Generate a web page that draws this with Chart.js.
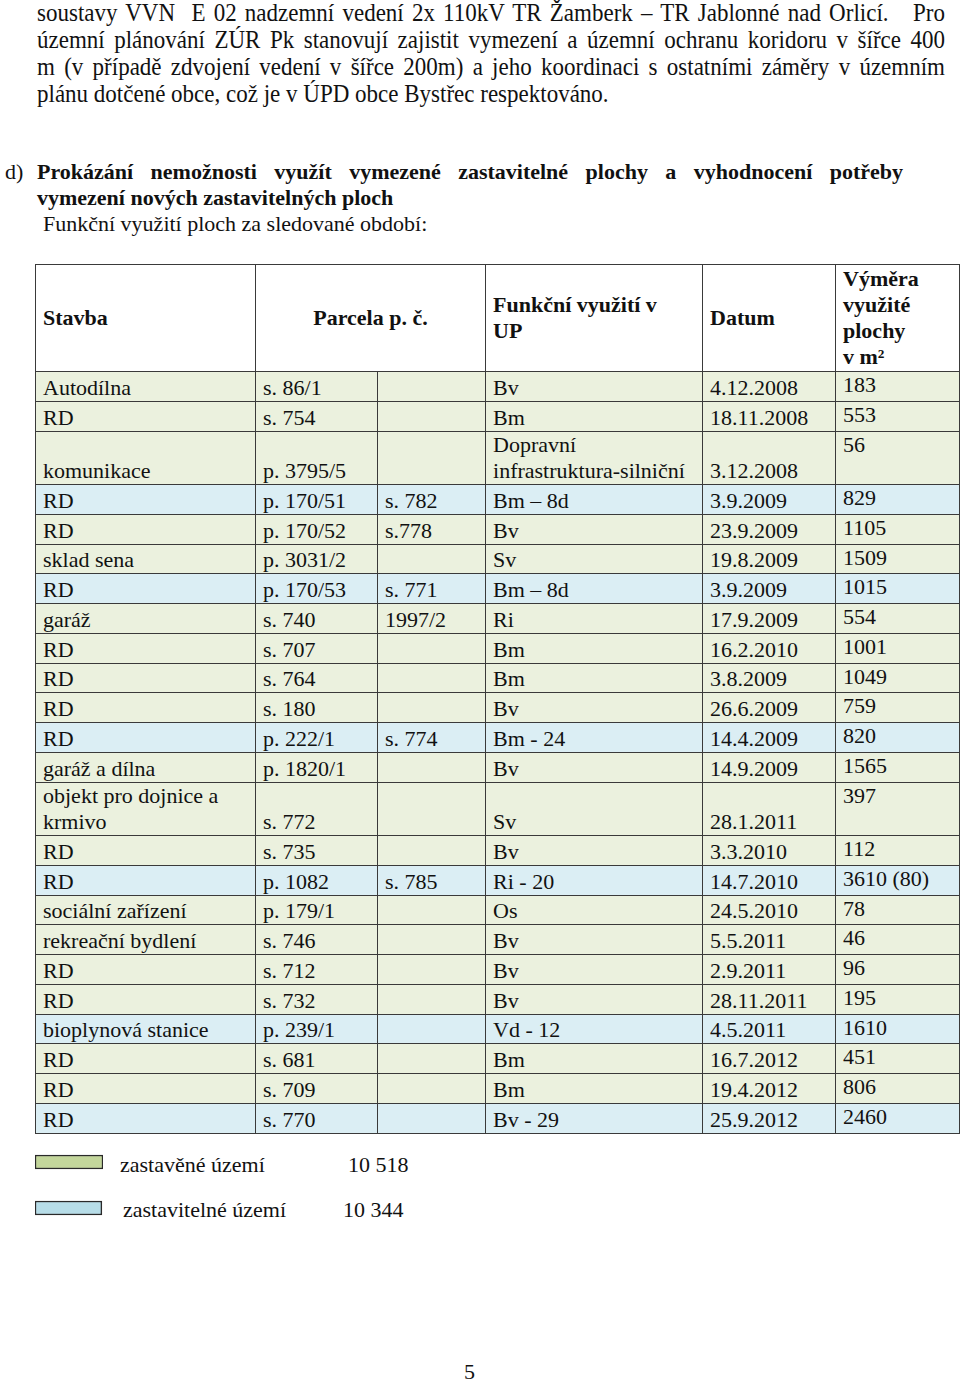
<!DOCTYPE html>
<html lang="cs">
<head>
<meta charset="utf-8">
<script src="https://cdn.jsdelivr.net/npm/chart.js@4/dist/chart.umd.min.js"></script>
<style>
  html, body { margin: 0; padding: 0; background: #fff; }
  body { width: 960px; height: 1382px; position: relative; overflow: hidden;
         font-family: 'Liberation Serif', 'Times New Roman', serif; color: #111; font-size: 22px; }
  .para { position: absolute; left: 37px; width: 908px; line-height: 27px; font-size: 23px; }
  .para div { text-align: justify; text-align-last: justify; white-space: nowrap; transform: scaleY(1.1); }
  .para div.last { text-align-last: left; }
  .sect { position: absolute; left: 5px; top: 159px; width: 900px; line-height: 26px; }
  .sect .d { position: absolute; left: 0; top: 0; }
  .sect .bl { position: absolute; left: 32px; width: 866px; font-weight: bold; white-space: nowrap; }
  .sect .j { text-align: justify; text-align-last: justify; }
  table { position: absolute; left: 35px; top: 264px; border-collapse: collapse; table-layout: fixed; width: 924px; }
  td, th { border: 1px solid #3a3a3a; padding: 0 0 0 7px; line-height: 26px; vertical-align: bottom;
           white-space: pre; overflow: hidden; font-weight: normal; text-align: left; }
  th { font-weight: bold; vertical-align: middle; height: 106px; }
  th.center { text-align: center; padding: 0; }
  tr.g td { background: #ebf1de; }
  tr.b td { background: #dbeef4; }
  tbody tr { height: 29.75px; }
  tbody tr.tall { height: 53.5px; }
  td.area { vertical-align: top; }
  .leg { position: absolute; white-space: nowrap; line-height: 26px; }
  #legendWrap { position: absolute; left: 33px; top: 1139px; width: 72px; height: 92px; }
  .page { position: absolute; left: 464px; top: 1359px; line-height: 26px; }
</style>
</head>
<body>
<div class="para" style="top:-1px">
  <div>soustavy VVN&nbsp; E 02 nadzemní vedení 2x 110kV TR Žamberk – TR Jablonné nad Orlicí.&nbsp;&nbsp; Pro</div>
  <div>územní plánování ZÚR Pk stanovují zajistit vymezení a územní ochranu koridoru v šířce 400</div>
  <div>m (v případě zdvojení vedení v šířce 200m) a jeho koordinaci s ostatními záměry v územním</div>
  <div class="last">plánu dotčené obce, což je v ÚPD obce Bystřec respektováno.</div>
</div>

<div class="sect">
  <div class="d">d)</div>
  <div class="bl j" style="top:0">Prokázání nemožnosti využít vymezené zastavitelné plochy a vyhodnocení potřeby</div>
  <div class="bl" style="top:26px">vymezení nových zastavitelných ploch</div>
  <div style="position:absolute;left:38px;top:52px;white-space:nowrap">Funkční využití ploch za sledované období:</div>
</div>

<table id="tbl">
  <colgroup>
    <col style="width:220px"><col style="width:122px"><col style="width:108px">
    <col style="width:217px"><col style="width:133px"><col style="width:124px">
  </colgroup>
  <thead><tr id="head"></tr></thead>
  <tbody id="body"></tbody>
</table>

<div id="legendWrap"><canvas id="legendChart"></canvas></div>
<div id="legendText"></div>

<div class="page">5</div>

<script>
// table columns
const headers = ['Stavba', 'Parcela p. č.', 'Funkční využití v\nUP', 'Datum', 'Výměra\nvyužité\nplochy\nv m²'];

// table rows
const stavba = ['Autodílna', 'RD', '\nkomunikace', 'RD', 'RD', 'sklad sena', 'RD', 'garáž', 'RD', 'RD', 'RD', 'RD',
  'garáž a dílna', 'objekt pro dojnice a\nkrmivo', 'RD', 'RD', 'sociální zařízení', 'rekreační bydlení', 'RD', 'RD',
  'bioplynová stanice', 'RD', 'RD', 'RD'];
const parcela1 = ['s. 86/1', 's. 754', 'p. 3795/5', 'p. 170/51', 'p. 170/52', 'p. 3031/2', 'p. 170/53', 's. 740', 's. 707',
  's. 764', 's. 180', 'p. 222/1', 'p. 1820/1', 's. 772', 's. 735', 'p. 1082', 'p. 179/1', 's. 746', 's. 712', 's. 732',
  'p. 239/1', 's. 681', 's. 709', 's. 770'];
const parcela2 = ['', '', '', 's. 782', 's.778', '', 's. 771', '1997/2', '', '', '', 's. 774', '', '', '', 's. 785', '', '',
  '', '', '', '', '', ''];
const funkce = ['Bv', 'Bm', 'Dopravní\ninfrastruktura-silniční', 'Bm – 8d', 'Bv', 'Sv', 'Bm – 8d', 'Ri', 'Bm', 'Bm', 'Bv',
  'Bm - 24', 'Bv', 'Sv', 'Bv', 'Ri - 20', 'Os', 'Bv', 'Bv', 'Bv', 'Vd - 12', 'Bm', 'Bm', 'Bv - 29'];
const datum = ['4.12.2008', '18.11.2008', '3.12.2008', '3.9.2009', '23.9.2009', '19.8.2009', '3.9.2009', '17.9.2009',
  '16.2.2010', '3.8.2009', '26.6.2009', '14.4.2009', '14.9.2009', '28.1.2011', '3.3.2010', '14.7.2010', '24.5.2010',
  '5.5.2011', '2.9.2011', '28.11.2011', '4.5.2011', '16.7.2012', '19.4.2012', '25.9.2012'];
const vymera = ['183', '553', '56', '829', '1105', '1509', '1015', '554', '1001', '1049', '759', '820', '1565', '397',
  '112', '3610 (80)', '78', '46', '96', '195', '1610', '451', '806', '2460'];
// 'g' = zastavěné území, 'b' = zastavitelné území
const kategorie = ['g', 'g', 'g', 'b', 'g', 'g', 'b', 'g', 'g', 'g', 'g', 'b', 'g', 'g', 'g', 'b', 'g', 'g', 'g', 'g',
  'b', 'g', 'g', 'b'];

// legend
const legendLabels = ['zastavěné území', 'zastavitelné území'];
const legendTotals = [10518, 10344];
const legendTotalText = ['10 518', '10 344'];
const legendColors = ['#c3d69b', '#b7dde8'];

const head = document.getElementById('head');
headers.forEach((h, i) => {
  const th = document.createElement('th');
  th.textContent = h;
  if (i === 1) { th.colSpan = 2; th.className = 'center'; }
  head.appendChild(th);
});

const body = document.getElementById('body');
stavba.forEach((s, i) => {
  const tr = document.createElement('tr');
  tr.className = kategorie[i];
  if (s.includes('\n') || funkce[i].includes('\n')) tr.className += ' tall';
  [s, parcela1[i], parcela2[i], funkce[i], datum[i], vymera[i]].forEach((v, j) => {
    const td = document.createElement('td');
    td.textContent = v;
    if (j === 5) td.className = 'area';
    tr.appendChild(td);
  });
  body.appendChild(tr);
});

// legend texts
const legendText = document.getElementById('legendText');
const legPos = [{x: 120, lx: 348, y: 1152}, {x: 123, lx: 343, y: 1197}];
legendLabels.forEach((l, i) => {
  const a = document.createElement('div');
  a.className = 'leg';
  a.style.left = legPos[i].x + 'px';
  a.style.top = legPos[i].y + 'px';
  a.textContent = l;
  legendText.appendChild(a);
  const b = document.createElement('div');
  b.className = 'leg';
  b.style.left = legPos[i].lx + 'px';
  b.style.top = legPos[i].y + 'px';
  b.textContent = legendTotalText[i];
  legendText.appendChild(b);
});

// legend swatches as bars
new Chart(document.getElementById('legendChart'), {
  type: 'bar',
  data: {
    labels: legendLabels,
    datasets: [{
      data: legendTotals,
      backgroundColor: legendColors,
      borderColor: '#2a2a2a',
      borderWidth: 1.5,
      borderSkipped: false,
      barThickness: 14
    }]
  },
  options: {
    indexAxis: 'y',
    responsive: true,
    maintainAspectRatio: false,
    animation: false,
    layout: {padding: {left: 2, right: 2, top: 0, bottom: 0}},
    plugins: {legend: {display: false}, tooltip: {enabled: false}},
    scales: {
      x: {display: false, min: 0, max: 10518},
      y: {display: false}
    }
  }
});
</script>
</body>
</html>
